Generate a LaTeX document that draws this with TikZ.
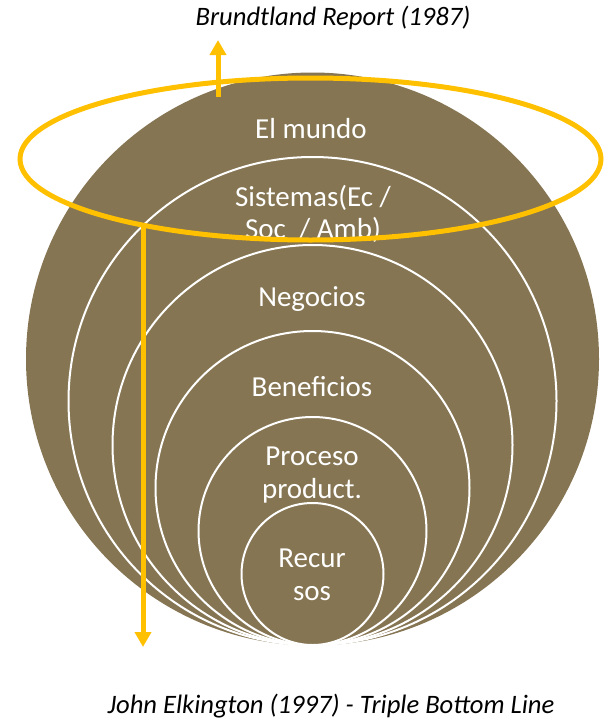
\documentclass[tikz,border=0pt]{standalone}
\usepackage{fontspec}
\setmainfont{Carlito}
\usetikzlibrary{arrows.meta,shapes.geometric}
\definecolor{earth}{RGB}{133,117,83}
\definecolor{gold}{RGB}{255,192,0}
\tikzset{
  ring/.style={circle,draw=white,line width=2pt,fill=earth,inner sep=0pt,outer sep=0pt,minimum size=#1},
  lbl/.style={text=white,font=\fontsize{29}{32.5}\selectfont,align=center,inner sep=0pt},
  citetext/.style={text=black,font=\fontsize{26.6}{30}\selectfont\itshape,inner sep=0pt},
  goldline/.style={draw=gold,line width=5pt},
  goldarrow/.style={goldline,-{Triangle[width=16pt,length=15pt]}}
}
\begin{document}
\begin{tikzpicture}[x=1pt,y=-1pt]
\useasboundingbox (0,0) rectangle (603,720);
\node[circle,fill=earth,inner sep=0pt,minimum size=573pt] (world) at (312.5,359) {};
\node[ring=488pt] (sys) at (312.5,401) {};
\node[ring=400pt] (biz) at (312.5,445) {};
\node[ring=314pt] (ben) at (312.5,488) {};
\node[ring=228pt] (proc) at (312.5,531) {};
\node[ring=142pt] (rec) at (312.5,574) {};
\node[lbl] (tw) at (311,129) {El mundo};
\node[lbl] (ts) at (313,214) {Sistemas(Ec /\\Soc~ / Amb)};
\node[lbl] (tb) at (312,299) {Negocios};
\node[lbl] (tbe) at (312,387) {Beneficios};
\node[lbl] (tp) at (312,475) {Proceso\\product.};
\node[lbl] (tr) at (312,575) {Recur\\sos};
\node[ellipse,goldline,inner sep=0pt,minimum width=581pt,minimum height=162pt] (ring) at (310.5,159) {};
\coordinate (upstart) at (218,97);
\coordinate (uptip) at (218,40);
\coordinate (downstart) at (143,226);
\coordinate (downtip) at (143,647);
\draw[goldarrow] (upstart) -- (uptip);
\draw[goldarrow] (downstart) -- (downtip);
\node[citetext] (brund) at (333,18) {Brundtland Report (1987)};
\node[citetext] (elk) at (331,706) {John Elkington (1997) - Triple Bottom Line};
\end{tikzpicture}
\end{document}
